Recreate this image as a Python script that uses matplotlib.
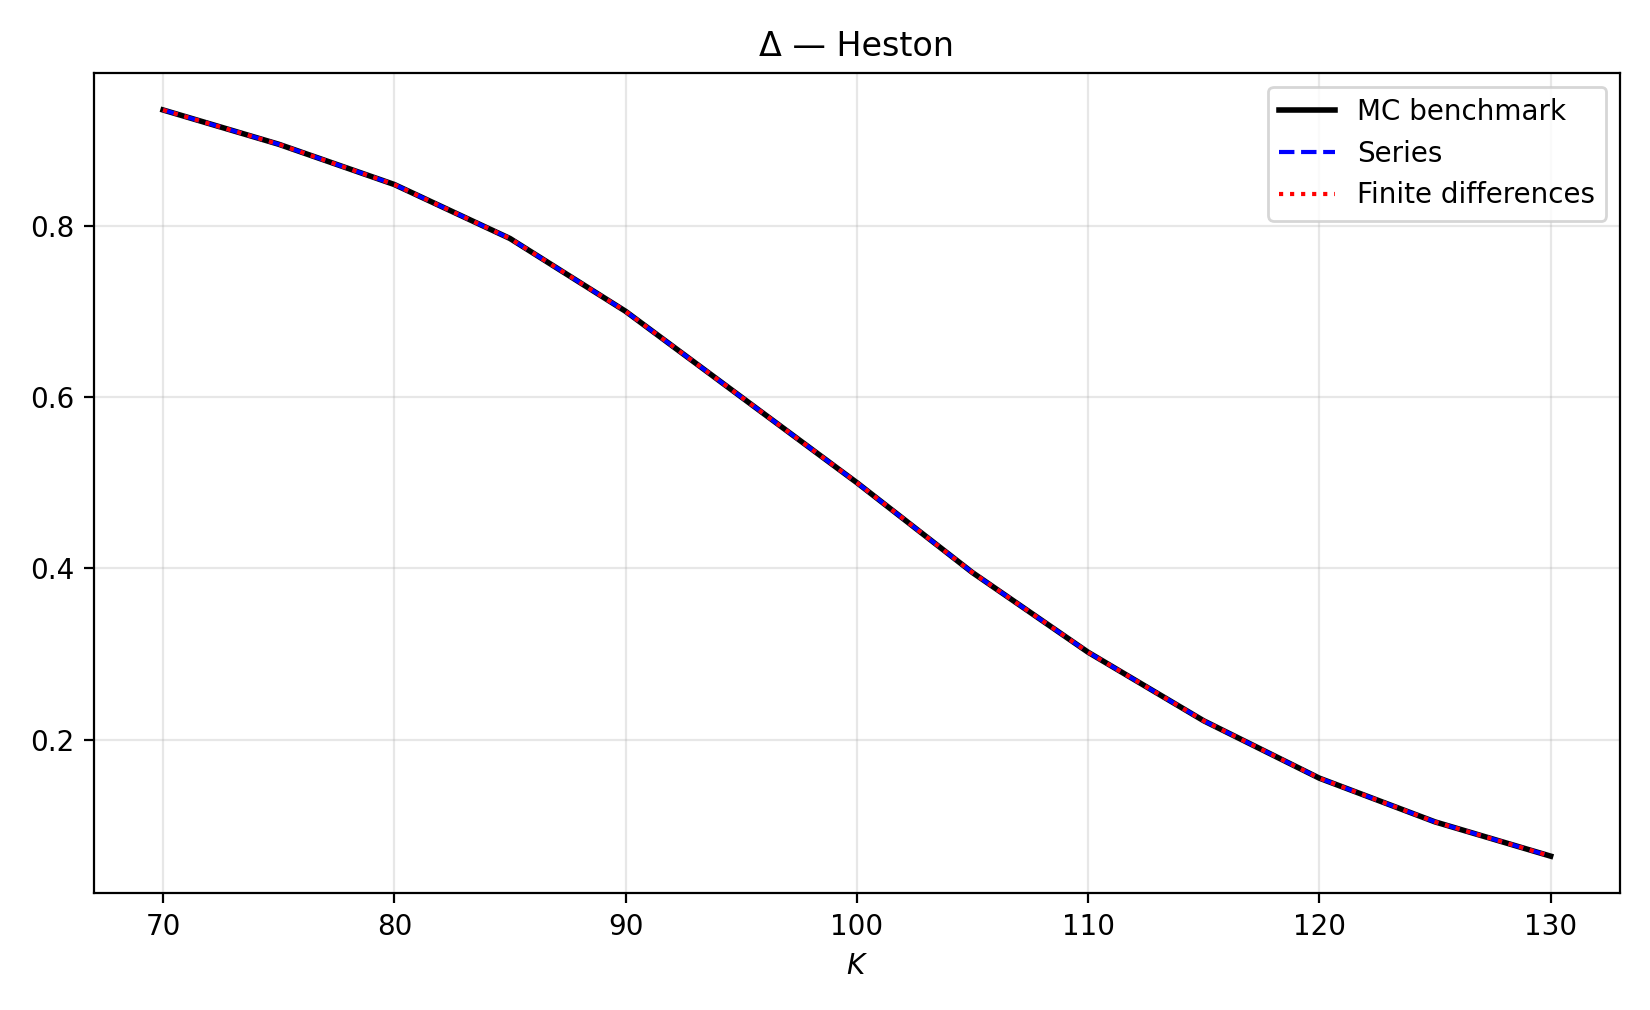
import numpy as np
import matplotlib
matplotlib.use('Agg')
import matplotlib.pyplot as plt

strikes = [70, 75, 80, 85, 90, 95, 100, 105, 110, 115, 120, 125, 130]
delta_mc = [0.935, 0.895, 0.848, 0.785, 0.700, 0.600, 0.500, 0.395, 0.302, 0.222, 0.155, 0.104, 0.064]
delta_series = list(delta_mc)
delta_fd = list(delta_mc)

fig, ax = plt.subplots(figsize=(8.25, 5.05), dpi=200)
ax.plot(strikes, delta_mc, color='black', lw=2, label='MC benchmark')
ax.plot(strikes, delta_series, color='blue', ls='--', lw=1.5, label='Series')
ax.plot(strikes, delta_fd, color='red', ls=':', lw=1.5, label='Finite differences')
ax.set_xticks(range(70, 131, 10))
ax.set_yticks([0.2, 0.4, 0.6, 0.8])
ax.set_xlabel('$K$')
ax.set_title('Δ — Heston')
ax.grid(alpha=0.3)
ax.legend(loc='upper right')
fig.tight_layout()
fig.savefig('out.png')
